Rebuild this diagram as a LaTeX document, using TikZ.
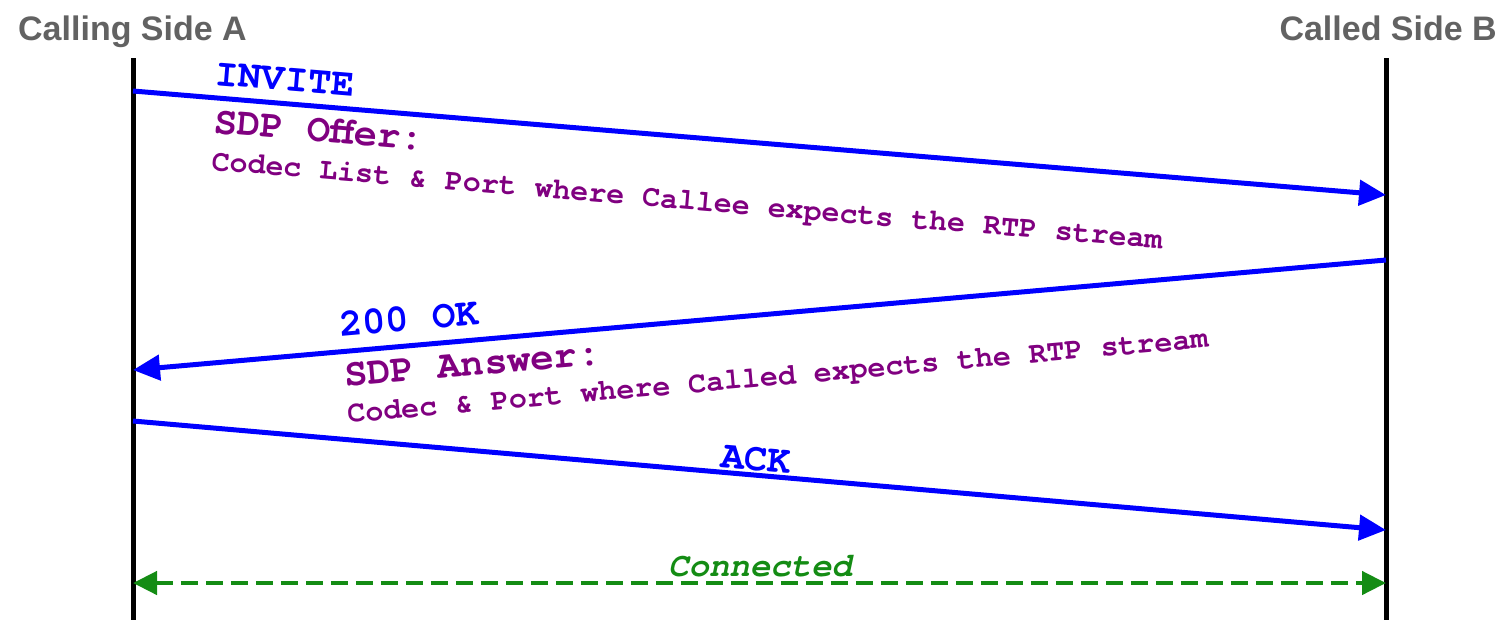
\documentclass[tikz,border=0pt]{standalone}
\usepackage{fontspec}
\setmainfont{Liberation Sans}
\newfontfamily\monofont{TeX Gyre Cursor}
\usetikzlibrary{arrows.meta}
\definecolor{titlegray}{RGB}{98,98,98}
\definecolor{msgblue}{RGB}{0,0,255}
\definecolor{sdppurple}{RGB}{128,0,128}
\definecolor{connGreen}{RGB}{20,140,20}
\tikzset{
  lifeline/.style={line width=5pt, black},
  msgarrow/.style={line width=5pt, msgblue, -{Triangle[length=27pt,width=25pt]}},
  connarrow/.style={line width=4.5pt, connGreen, dash pattern=on 17pt off 8pt, {Triangle[length=24pt,width=23pt]}-{Triangle[length=24pt,width=23pt]}},
  titletext/.style={inner sep=0pt, text=titlegray, font=\fontsize{34}{36}\selectfont\bfseries},
  bigmsg/.style={inner sep=0pt, anchor=base west, text=msgblue, font=\monofont\fontsize{39}{40}\selectfont\bfseries},
  sdphead/.style={inner sep=0pt, anchor=base west, text=sdppurple, font=\monofont\fontsize{39}{40}\selectfont\bfseries},
  sdpbody/.style={inner sep=0pt, anchor=base west, text=sdppurple, font=\monofont\fontsize{30}{32}\selectfont\bfseries},
  conntext/.style={inner sep=0pt, anchor=base, text=connGreen, font=\monofont\fontsize{34}{36}\selectfont\bfseries\itshape}
}
\begin{document}
\begin{tikzpicture}[x=1pt,y=-1pt]
\useasboundingbox (0,0) rectangle (1505,630);
% titles
\node[titletext, anchor=base west] (titleA) at (18,40) {Calling Side A};
\node[titletext, anchor=base east] (titleB) at (1497,40) {Called Side B};
% lifelines
\coordinate (Atop) at (133,58);
\coordinate (Abot) at (133,620);
\coordinate (Btop) at (1386,58);
\coordinate (Bbot) at (1386,620);
\draw[lifeline] (Atop) -- (Abot);
\draw[lifeline] (Btop) -- (Bbot);
% message end points
\coordinate (inviteA) at (133,91);
\coordinate (inviteB) at (1386,195);
\coordinate (okB) at (1386,260);
\coordinate (okA) at (133,370);
\coordinate (ackA) at (133,421);
\coordinate (ackB) at (1386,530);
\coordinate (connA) at (133,583);
\coordinate (connB) at (1386,583);
% arrows
\draw[msgarrow] (inviteA) -- (inviteB);
\draw[msgarrow] (okB) -- (okA);
\draw[msgarrow] (ackA) -- (ackB);
\draw[connarrow] (connA) -- (connB);
% labels
\node[bigmsg, rotate=-4.74] (invite) at (214,85) {INVITE};
\node[sdphead, rotate=-4.74] (offer) at (213,133) {SDP Offer:};
\node[sdpbody, rotate=-4.74] (offerbody) at (211,170) {Codec List \& Port where Callee expects the RTP stream};
\node[bigmsg, rotate=5.02] (ok) at (340,337) {200 OK};
\node[sdphead, rotate=5.02] (answer) at (345,387) {SDP Answer:};
\node[sdpbody, rotate=5.02] (answerbody) at (348,423) {Codec \& Port where Called expects the RTP stream};
\node[bigmsg, rotate=-4.97] (ack) at (720,467) {ACK};
\node[conntext] (conn) at (760,576) {Connected};
\end{tikzpicture}
\end{document}
